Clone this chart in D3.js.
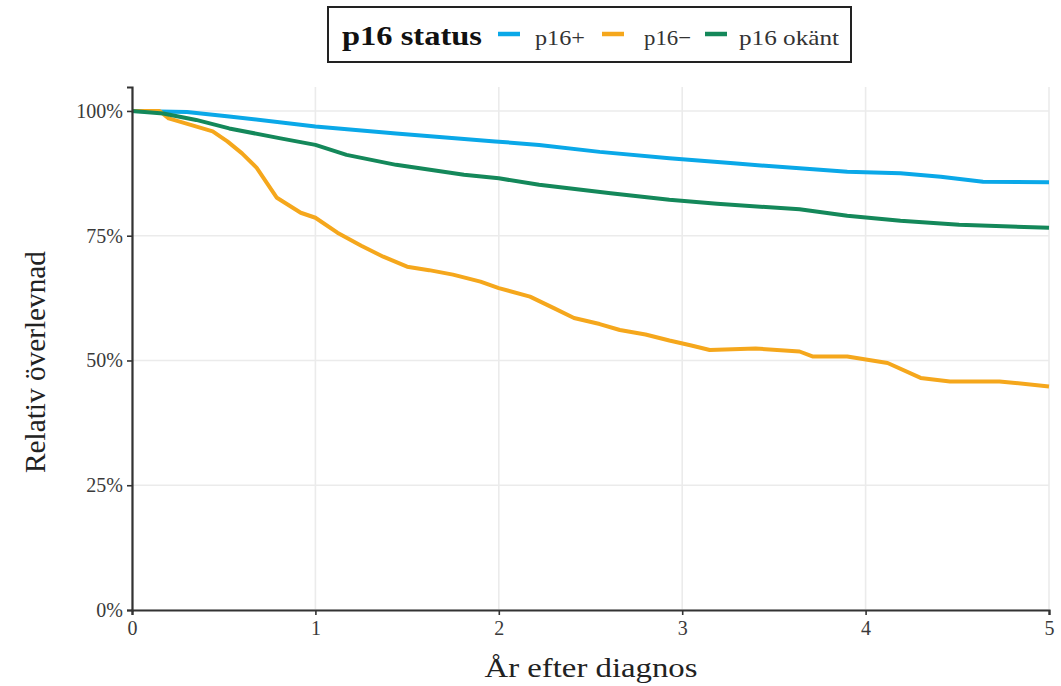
<!DOCTYPE html>
<html>
<head>
<meta charset="utf-8">
<script src="https://cdn.jsdelivr.net/npm/d3@7"></script>
<style>
  body { margin: 0; background: #fff; }
  svg { display: block; font-family: "Liberation Serif", "Times New Roman", serif; }
</style>
</head>
<body>
<div id="chart"></div>
<script>
// Relative survival per p16 status
const posTime = [0, 0.3, 0.53, 1.0, 1.44, 1.98, 2.22, 2.55, 2.93, 3.28, 3.64, 3.9, 4.19, 4.41, 4.64, 5.0];
const posVal  = [100, 99.8, 98.9, 96.9, 95.5, 93.9, 93.2, 91.8, 90.5, 89.5, 88.5, 87.8, 87.5, 86.8, 85.8, 85.7];

const negTime = [0, 0.15, 0.2, 0.44, 0.52, 0.6, 0.68, 0.79, 0.92, 1.0, 1.12, 1.25, 1.37, 1.5, 1.62, 1.75, 1.9, 2.0, 2.17, 2.3, 2.41, 2.55, 2.66, 2.8, 2.93, 3.05, 3.15, 3.4, 3.64, 3.71, 3.9, 4.12, 4.3, 4.46, 4.73, 5.0];
const negVal  = [100, 100, 98.5, 95.9, 93.9, 91.5, 88.6, 82.6, 79.6, 78.6, 75.6, 73.0, 70.8, 68.8, 68.1, 67.2, 65.8, 64.5, 62.8, 60.5, 58.5, 57.3, 56.1, 55.2, 54.0, 53.0, 52.1, 52.4, 51.8, 50.8, 50.8, 49.5, 46.5, 45.8, 45.8, 44.8];

const unkTime = [0, 0.17, 0.35, 0.53, 0.81, 1.0, 1.17, 1.44, 1.81, 2.0, 2.22, 2.61, 2.93, 3.19, 3.64, 3.9, 4.19, 4.51, 5.0];
const unkVal  = [100, 99.5, 98.2, 96.5, 94.5, 93.2, 91.2, 89.2, 87.2, 86.5, 85.2, 83.5, 82.2, 81.4, 80.3, 79.0, 78.0, 77.2, 76.6];

const seriesNames = ["p16+", "p16\u2212", "p16 okänt"];
const seriesColors = ["#0aa8e8", "#f5a71c", "#14885a"];
const xTicks = [0, 1, 2, 3, 4, 5];
const yTicks = [0, 25, 50, 75, 100];

const series = [
    { name: seriesNames[0], color: seriesColors[0], values: posTime.map((t, i) => ({ t: t, v: posVal[i] })) },
    { name: seriesNames[1], color: seriesColors[1], values: negTime.map((t, i) => ({ t: t, v: negVal[i] })) },
    { name: seriesNames[2], color: seriesColors[2], values: unkTime.map((t, i) => ({ t: t, v: unkVal[i] })) }
];

const width = 1061, height = 686;
const margin = { top: 87, right: 12, bottom: 76, left: 132 };

const svg = d3.select("#chart").append("svg")
    .attr("width", width)
    .attr("height", height);

const x = d3.scaleLinear().domain([0, 5]).range([margin.left, width - margin.right]);
const y = d3.scaleLinear().domain([0, 104.8]).range([height - margin.bottom, margin.top]);

// Gridlines
svg.append("g")
    .selectAll("line")
    .data(xTicks)
    .enter().append("line")
    .attr("x1", d => x(d)).attr("x2", d => x(d))
    .attr("y1", margin.top).attr("y2", height - margin.bottom)
    .attr("stroke", "#ebebeb").attr("stroke-width", 1.6);

svg.append("g")
    .selectAll("line")
    .data(yTicks)
    .enter().append("line")
    .attr("x1", margin.left).attr("x2", width - margin.right)
    .attr("y1", d => y(d)).attr("y2", d => y(d))
    .attr("stroke", "#ebebeb").attr("stroke-width", 1.6);

// Curves
const line = d3.line().x(d => x(d.t)).y(d => y(d.v));

svg.append("g")
    .selectAll("path")
    .data(series)
    .enter().append("path")
    .attr("d", d => line(d.values))
    .attr("fill", "none")
    .attr("stroke", d => d.color)
    .attr("stroke-width", 4)
    .attr("stroke-linejoin", "round");

// Axes
const xAxis = svg.append("g")
    .attr("transform", `translate(0,${height - margin.bottom})`)
    .call(d3.axisBottom(x).tickValues(xTicks).tickFormat(d3.format("d")).tickSize(5).tickPadding(6));

const yAxis = svg.append("g")
    .attr("transform", `translate(${margin.left},0)`)
    .call(d3.axisLeft(y).tickValues(yTicks).tickFormat(d => d + "%").tickSize(5).tickPadding(4));

[xAxis, yAxis].forEach(a => {
    a.select(".domain").attr("stroke", "#333").attr("stroke-width", 2.2);
    a.selectAll(".tick line").attr("stroke", "#333").attr("stroke-width", 1.6);
    a.selectAll("text")
        .attr("fill", "#3a3a3a")
        .style("font-family", "'Liberation Serif', serif")
        .style("font-size", "20px");
});

// Axis titles
svg.append("text")
    .attr("x", 591)
    .attr("y", 677)
    .attr("text-anchor", "middle")
    .attr("fill", "#222")
    .attr("textLength", 213)
    .attr("lengthAdjust", "spacingAndGlyphs")
    .style("font-size", "28px")
    .text("År efter diagnos");

svg.append("text")
    .attr("transform", "translate(45,362) rotate(-90)")
    .attr("text-anchor", "middle")
    .attr("fill", "#222")
    .attr("textLength", 222)
    .attr("lengthAdjust", "spacingAndGlyphs")
    .style("font-size", "29px")
    .text("Relativ överlevnad");

// Legend
const legend = svg.append("g");
legend.append("rect")
    .attr("x", 328).attr("y", 7)
    .attr("width", 523).attr("height", 55)
    .attr("fill", "#fff")
    .attr("stroke", "#222").attr("stroke-width", 2);

legend.append("text")
    .attr("x", 342).attr("y", 45)
    .attr("fill", "#111")
    .attr("textLength", 140)
    .attr("lengthAdjust", "spacingAndGlyphs")
    .style("font-size", "27px")
    .style("font-weight", "bold")
    .text("p16 status");

const keyX = [498, 602, 705];
const labelX = [535, 644, 739];
const labelLen = [50, 47, 100];
series.forEach((s, i) => {
    legend.append("line")
        .attr("x1", keyX[i]).attr("x2", keyX[i] + 22)
        .attr("y1", 34).attr("y2", 34)
        .attr("stroke", s.color).attr("stroke-width", 4.5);
    legend.append("text")
        .attr("x", labelX[i]).attr("y", 45)
        .attr("fill", "#333")
        .attr("textLength", labelLen[i])
        .attr("lengthAdjust", "spacingAndGlyphs")
        .style("font-size", "22px")
        .text(s.name);
});
</script>
</body>
</html>
